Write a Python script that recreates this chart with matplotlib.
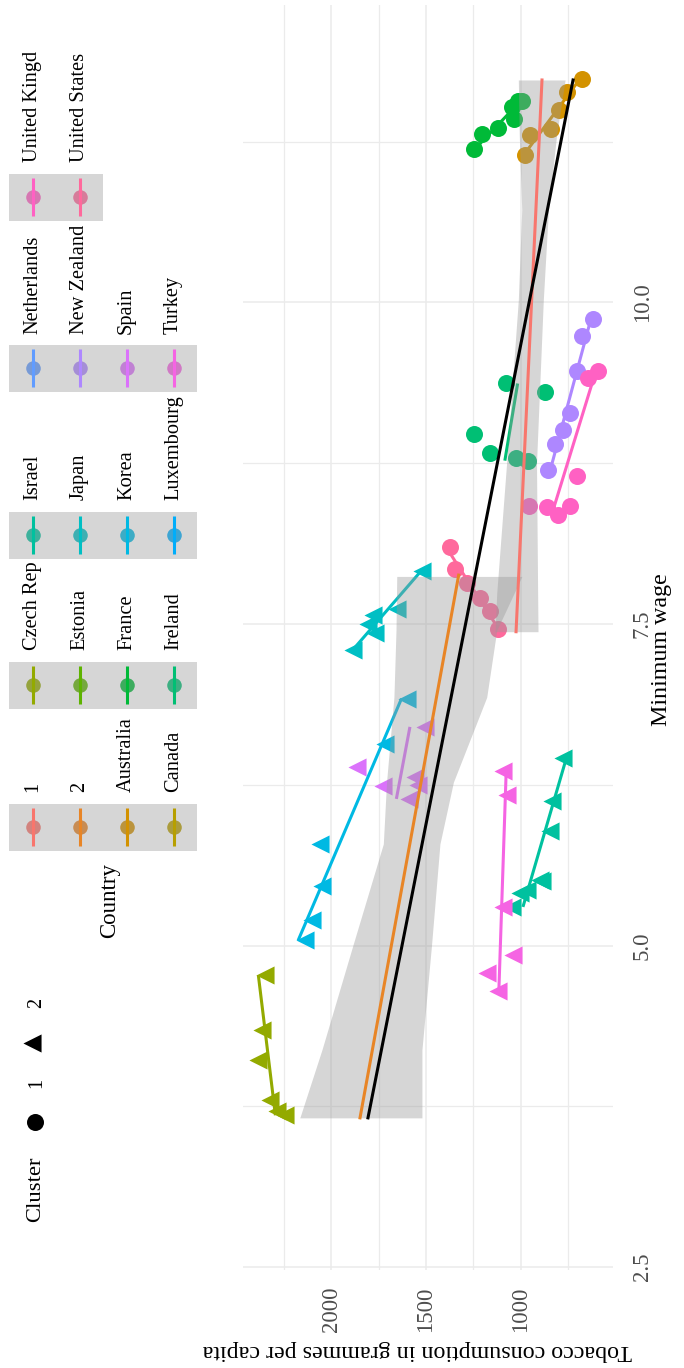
import numpy as np
import matplotlib.pyplot as plt
from matplotlib.patches import Rectangle

W, H = 684, 1368
plt.rcParams['font.family'] = ['Liberation Serif', 'DejaVu Serif']

# colour levels of the Country legend (cluster fits first, then countries)
levels = ['1', '2', 'Australia', 'Canada', 'Czech Rep', 'Estonia', 'France',
          'Ireland', 'Israel', 'Japan', 'Korea', 'Luxembourg', 'Netherlands',
          'New Zealand', 'Spain', 'Turkey', 'United Kingd', 'United States']

# minimum wage / tobacco consumption per country
wage_australia = [11.74, 11.64, 11.50, 11.35, 11.30, 11.15]
tob_australia = [677, 757, 795, 841, 950, 977]
wage_france = [11.19, 11.31, 11.36, 11.43, 11.52, 11.57, 11.57]
tob_france = [1244, 1202, 1118, 1035, 1047, 1015, 994]
wage_ireland = [9.37, 9.30, 8.98, 8.83, 8.79, 8.77]
tob_ireland = [1079, 871, 1244, 1162, 1024, 959]
wage_nz = [9.87, 9.74, 9.47, 9.14, 9.01, 8.90, 8.70]
tob_nz = [616, 677, 704, 739, 774, 818, 853]
wage_uk = [9.47, 9.41, 8.65, 8.42, 8.35, 8.41, 8.42]
tob_uk = [589, 642, 704, 739, 801, 862, 954]
wage_us = [8.10, 7.93, 7.82, 7.70, 7.60, 7.46]
tob_us = [1373, 1347, 1285, 1214, 1162, 1118]
wage_japan = [7.91, 7.62, 7.57, 7.50, 7.43, 7.30]
tob_japan = [1523, 1655, 1778, 1804, 1769, 1884]
wage_korea = [6.92, 6.57, 5.79, 5.46, 5.20, 5.04]
tob_korea = [1602, 1716, 2060, 2051, 2104, 2139]
wage_spain = [6.70, 6.39, 6.31, 6.25, 6.24, 6.14]
tob_spain = [1505, 1866, 1558, 1540, 1725, 1590]
wage_israel = [6.46, 6.12, 5.89, 5.51, 5.50, 5.43, 5.41, 5.30]
tob_israel = [778, 836, 845, 897, 889, 968, 1003, 1047]
wage_turkey = [6.36, 6.17, 5.30, 4.93, 4.79, 4.65]
tob_turkey = [1091, 1074, 1091, 1038, 1179, 1118]
wage_czech = [4.77, 4.34, 4.11, 3.80, 3.71, 3.68]
tob_czech = [2350, 2368, 2386, 2324, 2289, 2245]

series = [
    ('Australia', wage_australia, tob_australia, 1),
    ('France', wage_france, tob_france, 1),
    ('Ireland', wage_ireland, tob_ireland, 1),
    ('New Zealand', wage_nz, tob_nz, 1),
    ('United Kingd', wage_uk, tob_uk, 1),
    ('United States', wage_us, tob_us, 1),
    ('Japan', wage_japan, tob_japan, 2),
    ('Korea', wage_korea, tob_korea, 2),
    ('Spain', wage_spain, tob_spain, 2),
    ('Israel', wage_israel, tob_israel, 2),
    ('Turkey', wage_turkey, tob_turkey, 2),
    ('Czech Rep', wage_czech, tob_czech, 2),
]

# cluster trend lines with their confidence bands, and the overall trend
fit1_wage = [7.44, 11.73]
fit1_tob = [1024, 887]
band1_wage = [7.44, 7.74, 8.75, 10.02, 10.72, 11.30, 11.73]
band1_lo = [908, 910, 916, 880, 853, 810, 765]
band1_hi = [1135, 1126, 1074, 1012, 994, 1007, 1012]

fit2_wage = [3.66, 7.88]
fit2_tob = [1848, 1327]
band2_wage = [3.66, 4.19, 5.01, 5.79, 6.27, 6.93, 7.45, 7.87]
band2_lo = [1521, 1521, 1470, 1426, 1355, 1179, 1126, 993]
band2_hi = [2166, 2049, 1884, 1725, 1708, 1669, 1658, 1654]

all_wage = [3.66, 11.73]
all_tob = [1806, 723]


def hue_colour(h, c=100.0, l=65.0):
    # polar CIE-Luv -> sRGB hex, same as scales::hue_pal
    hr = np.deg2rad(h)
    u, v = c * np.cos(hr), c * np.sin(hr)
    Y = ((l + 16) / 116) ** 3
    un, vn = 0.19784, 0.46834
    up = u / (13 * l) + un
    vp = v / (13 * l) + vn
    X = Y * 9 * up / (4 * vp)
    Z = Y * (12 - 3 * up - 20 * vp) / (4 * vp)
    M = np.array([[3.2406, -1.5372, -0.4986],
                  [-0.9689, 1.8758, 0.0415],
                  [0.0557, -0.2040, 1.0570]])
    rgb = M @ np.array([X, Y, Z])
    rgb = np.where(rgb <= 0.0031308, 12.92 * rgb, 1.055 * np.abs(rgb) ** (1 / 2.4) - 0.055)
    rgb = np.clip(rgb, 0, 1)
    return '#%02x%02x%02x' % tuple(int(round(x * 255)) for x in rgb)


hues = np.linspace(15, 375, len(levels) + 1)[:-1]
palette = {name: hue_colour(hh) for name, hh in zip(levels, hues)}
band_colour = '#999999'

fig = plt.figure(figsize=(W / 100, H / 100), dpi=100)
ax = fig.add_axes([243 / W, 1 - 1270 / H, (613 - 243) / W, (1270 - 5) / H])
ax.set_xlim(2466, 512)
ax.set_ylim(2.477, 12.313)

# points
for name, wage, tob, cl in series:
    ax.scatter(tob, wage, s=150 if cl == 1 else 170, marker='o' if cl == 1 else '<',
               color=palette[name], linewidths=0, zorder=2)

# per-country linear fits
for name, wage, tob, cl in series:
    k, b = np.polyfit(wage, tob, 1)
    ws = np.array([min(wage), max(wage)])
    ax.plot(k * ws + b, ws, color=palette[name], lw=2.2, zorder=3,
            solid_capstyle='butt')

# cluster fits
ax.fill_betweenx(band1_wage, band1_lo, band1_hi, color=band_colour, alpha=0.4, lw=0, zorder=4)
ax.plot(fit1_tob, fit1_wage, color=palette['1'], lw=2.2, zorder=5)
ax.fill_betweenx(band2_wage, band2_lo, band2_hi, color=band_colour, alpha=0.4, lw=0, zorder=4)
ax.plot(fit2_tob, fit2_wage, color=palette['2'], lw=2.2, zorder=5)
ax.plot(all_tob, all_wage, color='black', lw=2.2, zorder=6)

# axes styling
for s in ax.spines.values():
    s.set_visible(False)
ax.set_xticks([1000, 1500, 2000])
ax.set_xticklabels(['1000', '1500', '2000'], rotation=90, fontsize=16.5, color='#4D4D4D')
ax.set_xticks([750, 1250, 1750, 2250], minor=True)
ax.yaxis.tick_right()
ax.set_yticks([2.5, 5, 7.5, 10])
ax.set_yticklabels(['2.5', '5.0', '7.5', '10.0'], rotation=90, fontsize=16.5, color='#4D4D4D')
for lbl in ax.get_yticklabels():
    lbl.set_verticalalignment('center')
    lbl.set_horizontalalignment('left')
ax.set_yticks([3.75, 6.25, 8.75, 11.25], minor=True)
ax.tick_params(which='both', length=0)
ax.tick_params(axis='x', pad=12)
ax.tick_params(axis='y', pad=13.5)
ax.grid(which='major', color='#EBEBEB', lw=1.1)
ax.grid(which='minor', color='#EBEBEB', lw=0.9)
ax.set_axisbelow(True)

fig.text(662 / W, 1 - 650 / H, 'Minimum wage', rotation=90,
         ha='center', va='center', fontsize=17.3)
fig.text(417 / W, 1 - 1351 / H, 'Tobacco consumption in grammes per capita',
         rotation=180, ha='center', va='center', fontsize=17.3)

# legends, laid out in pixel space
lax = fig.add_axes([0, 0, 1, 1])
lax.set_xlim(0, W)
lax.set_ylim(H, 0)
lax.axis('off')

lax.text(36, 1222, 'Cluster', rotation=90, ha='center', va='bottom', fontsize=16.2)
lax.scatter([35], [1122], marker='o', s=150, color='black', linewidths=0)
lax.text(37, 1083, '1', rotation=90, ha='center', va='center', fontsize=14.7)
lax.scatter([32], [1043], marker='<', s=170, color='black', linewidths=0)
lax.text(37, 1003, '2', rotation=90, ha='center', va='center', fontsize=14.7)

lax.text(110, 938, 'Country', rotation=90, ha='center', va='bottom', fontsize=16.5)
box_y = [827, 685, 535, 368, 197]
key = 47
for i, name in enumerate(levels):
    cx = 9 + key * (i % 4 + 0.5)
    cy = box_y[i // 4]
    col = palette[name]
    lax.scatter([cx], [cy], s=110, color=col, linewidths=0, zorder=2)
    lax.add_patch(Rectangle((cx - key / 2, cy - key / 2), key, key,
                            color=band_colour, alpha=0.4, lw=0, zorder=3))
    lax.plot([cx, cx], [cy - 19, cy + 19], color=col, lw=2.2, zorder=4,
             solid_capstyle='butt')
    lax.text(cx, cy - key / 2 - 11, name, rotation=90, ha='center', va='bottom',
             fontsize=14.7)

fig.savefig('out.png', dpi=100)
